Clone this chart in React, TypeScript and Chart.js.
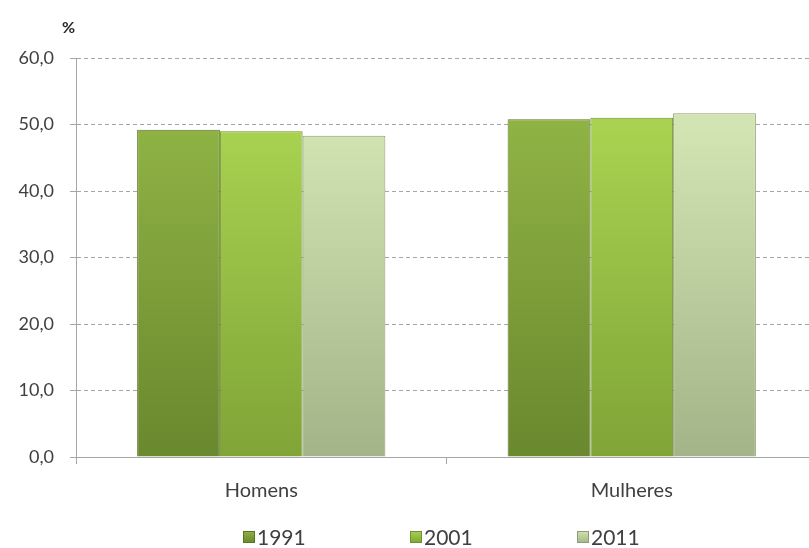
import React, { useEffect, useRef } from "react";
import { Chart, registerables } from "chart.js";

Chart.register(...registerables);

const categories = ["Homens", "Mulheres"];
const seriesLabels = ["1991", "2001", "2011"];
const values1991 = [49.2, 50.8];
const values2001 = [49.0, 51.0];
const values2011 = [48.3, 51.7];
const yTicks = [0, 10, 20, 30, 40, 50, 60];

const topColors = ["#8fb244", "#a8d250", "#d2e4b2"];
const bottomColors = ["#6a882e", "#80a437", "#a3b488"];
const borderColors = ["#5a7623", "#6e922c", "#8e9c74"];

const FONT = "Lato, 'Open Sans', 'DejaVu Sans', sans-serif";

function gradientFor(i: number) {
  return (ctx: any) => {
    const chart = ctx.chart;
    const area = chart.chartArea;
    if (!area) return topColors[i];
    const g = chart.ctx.createLinearGradient(0, area.top + 70, 0, area.bottom);
    g.addColorStop(0, topColors[i]);
    g.addColorStop(1, bottomColors[i]);
    return g;
  };
}

const extrasPlugin = {
  id: "extras",
  afterDraw(chart: any) {
    const ctx = chart.ctx;
    ctx.save();
    // unit label
    ctx.fillStyle = "#262626";
    ctx.font = `bold 16px ${FONT}`;
    ctx.textAlign = "left";
    ctx.textBaseline = "middle";
    ctx.fillText("%", 62, 28);
    // legend
    ctx.font = `21px ${FONT}`;
    const spacing = 167;
    const n = chart.data.datasets.length;
    const centerX = 445;
    const y = 537;
    chart.data.datasets.forEach((ds: any, i: number) => {
      const x0 = centerX + (i - (n - 1) / 2) * spacing - 35;
      const box = 12;
      const g = ctx.createLinearGradient(0, y - box / 2, 0, y + box / 2);
      g.addColorStop(0, topColors[i]);
      g.addColorStop(1, bottomColors[i]);
      ctx.fillStyle = g;
      ctx.fillRect(x0, y - box / 2, box, box);
      ctx.strokeStyle = borderColors[i];
      ctx.lineWidth = 1;
      ctx.strokeRect(x0 + 0.5, y - box / 2 + 0.5, box - 1, box - 1);
      ctx.fillStyle = "#404040";
      ctx.textAlign = "left";
      ctx.textBaseline = "middle";
      ctx.fillText(ds.label, x0 + box + 2, y + 1);
    });
    ctx.restore();
  },
};

export default function App() {
  const ref = useRef<HTMLCanvasElement | null>(null);

  useEffect(() => {
    if (!ref.current) return;
    const seriesValues = [values1991, values2001, values2011];
    const chart = new Chart(ref.current, {
      type: "bar",
      data: {
        labels: categories,
        datasets: seriesLabels.map((label, i) => ({
          label,
          data: seriesValues[i],
          backgroundColor: gradientFor(i),
          borderColor: borderColors[i],
          borderWidth: 1,
          categoryPercentage: 0.67,
          barPercentage: 1.0,
        })),
      },
      options: {
        responsive: true,
        maintainAspectRatio: false,
        animation: false,
        layout: { padding: { top: 58, right: 13, bottom: 39, left: 0 } },
        plugins: {
          legend: { display: false },
          tooltip: { enabled: false },
          title: { display: false },
        },
        scales: {
          x: {
            grid: {
              display: true,
              offset: true,
              drawOnChartArea: false,
              drawTicks: true,
              tickLength: 7,
              color: "#a6a6a6",
            },
            border: { display: true, color: "#a6a6a6", width: 1 },
            ticks: {
              color: "#404040",
              font: { family: FONT, size: 20 },
              padding: 15,
            },
            afterFit(scale: any) {
              scale.height = 52;
            },
          },
          y: {
            min: 0,
            max: 60,
            afterBuildTicks(scale: any) {
              scale.ticks = yTicks.map((v) => ({ value: v }));
            },
            grid: {
              color: "#a6a6a6",
              lineWidth: 1,
              drawTicks: true,
              tickLength: 6,
            },
            border: { display: true, color: "#a6a6a6", width: 1, dash: [4, 3] },
            ticks: {
              color: "#404040",
              font: { family: FONT, size: 18 },
              padding: 16,
              callback: (v: any) => Number(v).toFixed(1).replace(".", ","),
            },
            afterFit(scale: any) {
              scale.width = 76;
            },
          },
        },
      },
      plugins: [extrasPlugin],
    } as any);
    return () => chart.destroy();
  }, []);

  return (
    <div
      style={{
        position: "fixed",
        left: 0,
        top: 0,
        width: 809,
        height: 548,
        overflow: "hidden",
        background: "#ffffff",
      }}
    >
      <div style={{ width: 830, height: 548, position: "relative" }}>
        <canvas ref={ref} />
      </div>
    </div>
  );
}
